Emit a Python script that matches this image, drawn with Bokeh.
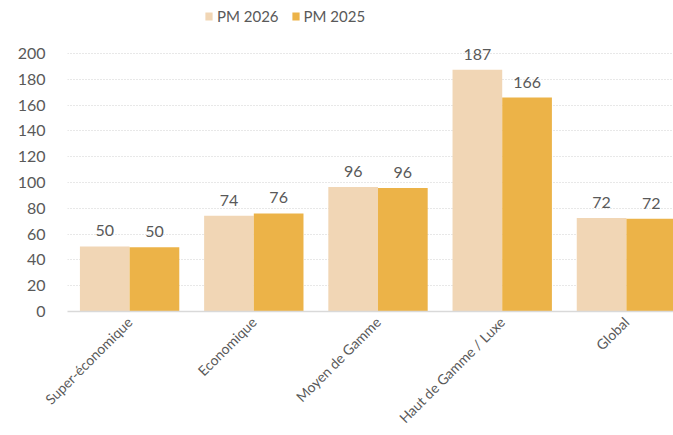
import math
from bokeh.plotting import figure
from bokeh.models import ColumnDataSource, FixedTicker, Legend, LegendItem, Range1d
from bokeh.core.properties import value
from bokeh.embed import file_html
from bokeh.resources import INLINE

categories = ["Super-économique", "Economique", "Moyen de Gamme", "Haut de Gamme / Luxe", "Global"]
pm_2026 = [50.4, 74.2, 96.4, 187.3, 72.4]
pm_2025 = [49.8, 76.0, 95.7, 165.8, 71.9]
series_names = ["PM 2026", "PM 2025"]
y_ticks = [0, 20, 40, 60, 80, 100, 120, 140, 160, 180, 200]

FONT = "Lato"
TXT = "#595959"
C26 = "#F1D6B5"
C25 = "#ECB348"

xs = list(range(len(categories)))
src = ColumnDataSource(dict(
    x26=[x - 0.2 for x in xs], x25=[x + 0.2 for x in xs],
    v26=pm_2026, v25=pm_2025,
    l26=[str(round(v)) for v in pm_2026], l25=[str(round(v)) for v in pm_2025],
))

p = figure(width=673, height=435, output_backend="svg", toolbar_location=None,
           x_range=Range1d(-0.5, 4.379), y_range=Range1d(0, 241),
           min_border_left=67, min_border_right=0, min_border_top=0, min_border_bottom=124)
p.outline_line_color = None
p.background_fill_color = "white"

r26 = p.vbar(x="x26", top="v26", width=0.4, source=src, color=C26, line_color=None)
r25 = p.vbar(x="x25", top="v25", width=0.4, source=src, color=C25, line_color=None)

for xcol, ycol, lcol in (("x26", "v26", "l26"), ("x25", "v25", "l25")):
    p.text(x=xcol, y=ycol, text=lcol, source=src, text_align="center", text_baseline="bottom",
           y_offset=-10, text_font=value(FONT), text_font_size="16px", text_color=TXT)

p.xaxis.ticker = FixedTicker(ticks=xs)
p.xaxis.major_label_overrides = {i: c for i, c in enumerate(categories)}
p.xaxis.major_label_orientation = math.pi / 4
p.xaxis.major_tick_line_color = None
p.xaxis.minor_tick_line_color = None
p.xaxis.axis_line_color = "#D9D9D9"
p.xaxis.axis_line_width = 1.5
p.xaxis.major_label_text_font = FONT
p.xaxis.major_label_text_font_size = "14px"
p.xaxis.major_label_text_color = TXT
p.xaxis.major_label_standoff = 2

p.yaxis.ticker = FixedTicker(ticks=y_ticks)
p.yaxis.axis_line_color = None
p.yaxis.major_tick_line_color = None
p.yaxis.minor_tick_line_color = None
p.yaxis.major_label_text_font = FONT
p.yaxis.major_label_text_font_size = "16px"
p.yaxis.major_label_text_color = TXT
p.yaxis.major_label_standoff = 16

p.xgrid.grid_line_color = None
p.ygrid.grid_line_color = "#D0D0D0"
p.ygrid.grid_line_dash = "1 2"
p.ygrid.grid_line_width = 1

legend = Legend(items=[LegendItem(label=series_names[0], renderers=[r26]),
                       LegendItem(label=series_names[1], renderers=[r25])],
                orientation="horizontal", location=(137, 286),
                label_text_font=FONT, label_text_font_size="15px", label_text_color=TXT,
                glyph_width=9, glyph_height=10, label_standoff=4, spacing=12,
                padding=4, margin=0, border_line_color=None, background_fill_alpha=0)
p.add_layout(legend)

open("out.html", "w").write(file_html(p, INLINE))
